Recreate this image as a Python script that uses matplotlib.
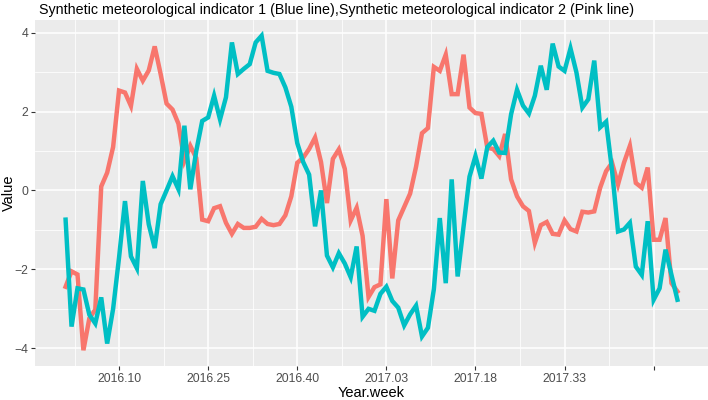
import numpy as np
import matplotlib
matplotlib.use("Agg")
import matplotlib.pyplot as plt

# weekly values (2016.01 .. 2017.52)
weeks = [f"{y}.{w:02d}" for y in (2016, 2017) for w in range(1, 53)]

indicator1 = [  # blue line
    -0.74, -3.45, -2.48, -2.51, -3.15, -3.37, -2.71, -3.88, -3.0, -1.7,
    -0.27, -1.67, -1.97, 0.24, -0.86, -1.46, -0.35, 0.0, 0.36, 0.03,
    1.64, 0.03, 1.0, 1.76, 1.85, 2.4, 1.8, 2.36, 3.75, 2.95,
    3.08, 3.2, 3.75, 3.92, 3.03, 2.98, 2.95, 2.61, 2.12, 1.2,
    0.72, 0.4, -0.91, 0.0, -1.65, -1.95, -1.59, -1.85, -2.2, -1.42,
    -3.2, -3.0, -3.05, -2.62, -2.44, -2.8, -2.97, -3.42, -3.14, -2.92,
    -3.7, -3.48, -2.5, -0.7, -2.35, 0.28, -2.18, -0.91, 0.35, 0.87,
    0.3, 1.1, 1.26, 0.96, 0.95, 1.93, 2.55, 2.15, 1.95, 2.4,
    3.16, 2.55, 3.72, 3.14, 3.03, 3.6, 2.99, 2.1, 2.31, 3.29,
    1.6, 1.74, 0.5, -1.04, -0.99, -0.82, -1.93, -2.14, -0.78, -2.77,
    -2.48, -1.5, -2.14, -2.77,
]

indicator2 = [  # pink line
    -2.44, -2.05, -2.13, -4.05, -3.24, -3.02, 0.1, 0.45, 1.1, 2.53,
    2.48, 2.14, 3.08, 2.78, 3.04, 3.65, 2.95, 2.2, 2.05, 1.69,
    0.75, 1.13, 0.82, -0.74, -0.78, -0.45, -0.4, -0.82, -1.1, -0.85,
    -0.95, -0.95, -0.92, -0.72, -0.85, -0.88, -0.85, -0.63, -0.15, 0.7,
    0.83, 1.05, 1.34, 0.72, -0.32, 0.8, 1.04, 0.55, -0.76, -0.44,
    -1.15, -2.7, -2.45, -2.38, -0.22, -2.23, -0.76, -0.42, -0.08, 0.6,
    1.45, 1.58, 3.13, 3.03, 3.44, 2.44, 2.44, 3.44, 2.1, 1.96,
    1.94, 1.08, 1.05, 0.87, 1.43, 0.28, -0.15, -0.4, -0.52, -1.33,
    -0.88, -0.8, -1.1, -1.12, -0.76, -0.98, -1.04, -0.54, -0.56, -0.53,
    0.07, 0.49, 0.7, 0.15, 0.7, 1.13, 0.19, 0.07, 0.58, -1.25,
    -1.25, -0.7, -2.35, -2.56,
]

tick_labels = ["2016.10", "2016.25", "2016.40", "2017.03", "2017.18", "2017.33", ""]
y_ticks = [-4, -2, 0, 2, 4]

plt.rcParams['font.family'] = ['Liberation Sans', 'DejaVu Sans']

x = np.arange(len(weeks))
tick_pos = [weeks.index(t) if t else 99 for t in tick_labels]

fig = plt.figure(figsize=(7.08, 4.0), dpi=100)
ax = fig.add_axes([35 / 708, 34 / 400, 673 / 708, 346 / 400])
ax.set_facecolor('#EBEBEB')

ax.plot(x, indicator2, color='#F8766D', lw=3.2, solid_joinstyle='miter', zorder=3)
ax.plot(x, indicator1, color='#00BFC4', lw=3.2, solid_joinstyle='miter', zorder=4)

ax.set_xlim(-0.05 * 103, 103 * 1.05)
ax.margins(y=0.05)
ax.set_xticks(tick_pos)
ax.set_xticklabels(tick_labels)
ax.set_xticks([p - 7.5 for p in tick_pos], minor=True)
ax.set_yticks(y_ticks)
ax.set_yticks([-3, -1, 1, 3], minor=True)

ax.grid(True, which='major', color='white', lw=1.1)
ax.grid(True, which='minor', color='white', lw=0.55)
ax.set_axisbelow(True)
for s in ax.spines.values():
    s.set_visible(False)
ax.tick_params(which='major', length=3, width=0.8, color='#333333',
               labelsize=8.8, labelcolor='#4D4D4D', pad=2)
ax.tick_params(which='minor', length=0)

ax.set_xlabel("Year.week", fontsize=10.5, labelpad=1)
fig.text(9 / 708, 1 - 193 / 400, "Value", fontsize=10.5, rotation=90,
         va='center', ha='center')
fig.text(39 / 708, 1 - 10 / 400, "Synthetic meteorological indicator 1 (Blue line),Synthetic meteorological indicator 2 (Pink line)",
         fontsize=10.3, va='center', ha='left')

fig.savefig("out.png", dpi=100)
